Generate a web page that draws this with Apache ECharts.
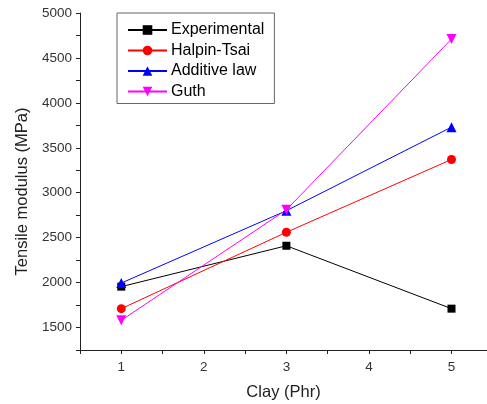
<!DOCTYPE html>
<html>
<head>
<meta charset="utf-8">
<script src="https://cdn.jsdelivr.net/npm/echarts@6/dist/echarts.min.js"></script>
<style>
  html, body { margin: 0; padding: 0; background: #fff; }
  #main { width: 487px; height: 404px; }
</style>
</head>
<body>
<div id="main"></div>
<script>
// clay content (phr)
var clay = [1, 3, 5];
var experimental = [1955, 2410, 1710];
var halpinTsai = [1710, 2560, 3370];
var additiveLaw = [1995, 2800, 3730];
var guth = [1580, 2810, 4710];

var chart = echarts.init(document.getElementById('main'));

function pairs(vals) {
  return clay.map(function(c, i) { return [c, vals[i]]; });
}

function line(name, vals, color, symbol, size) {
  return {
    type: 'line',
    name: name,
    data: pairs(vals),
    symbol: symbol,
    symbolSize: size,
    lineStyle: { color: color, width: 1 },
    itemStyle: { color: color },
    emphasis: { disabled: true }
  };
}

var option = {
  animation: false,
  grid: { left: 80, top: 13, right: 0, bottom: 54, outerBoundsMode: 'none' },
  legend: {
    orient: 'vertical',
    left: 117,
    top: 13,
    padding: [9, 10, 4, 10],
    itemWidth: 39,
    itemHeight: 12,
    itemGap: 4.5,
    borderColor: '#666',
    borderWidth: 1,
    textStyle: { fontFamily: 'Liberation Sans', fontSize: 16, color: '#000', padding: [0, 0, 0, -1] },
    data: ['Experimental', 'Halpin-Tsai', 'Additive law', 'Guth']
  },
  xAxis: {
    type: 'value',
    min: 0.5,
    max: 5.43,
    interval: 0.5,
    name: 'Clay (Phr)',
    nameLocation: 'middle',
    nameGap: 34,
    nameTextStyle: { fontFamily: 'Liberation Sans', fontSize: 16.5, color: '#222' },
    axisLine: { lineStyle: { color: '#222', width: 1 } },
    axisTick: { inside: false, length: 4, lineStyle: { color: '#222' } },
    axisLabel: {
      fontFamily: 'Liberation Sans', fontSize: 13.5, color: '#333', margin: 10,
      formatter: function(v) { return Math.abs(v - Math.round(v)) < 1e-9 ? String(Math.round(v)) : ''; }
    },
    splitLine: { show: false }
  },
  yAxis: {
    type: 'value',
    min: 1250,
    max: 5000,
    interval: 250,
    name: 'Tensile modulus (MPa)',
    nameLocation: 'middle',
    nameGap: 46,
    nameTextStyle: { fontFamily: 'Liberation Sans', fontSize: 16.5, color: '#222', padding: [0, 0, 0, -20] },
    axisLine: { show: true, lineStyle: { color: '#222', width: 1 } },
    axisTick: { show: true, inside: false, length: 4, lineStyle: { color: '#222' } },
    axisLabel: {
      fontFamily: 'Liberation Sans', fontSize: 13.5, color: '#333', margin: 8,
      formatter: function(v) { return v % 500 === 0 ? String(v) : ''; }
    },
    splitLine: { show: false }
  },
  series: [
    line('Experimental', experimental, '#000000', 'rect', 8),
    line('Halpin-Tsai', halpinTsai, '#ff0000', 'circle', 9),
    line('Additive law', additiveLaw, '#0000ff', 'triangle', 10),
    line('Guth', guth, '#ff00ff', 'path://M0,0 L10,0 L5,9 Z', 10)
  ]
};

chart.setOption(option);
</script>
</body>
</html>
